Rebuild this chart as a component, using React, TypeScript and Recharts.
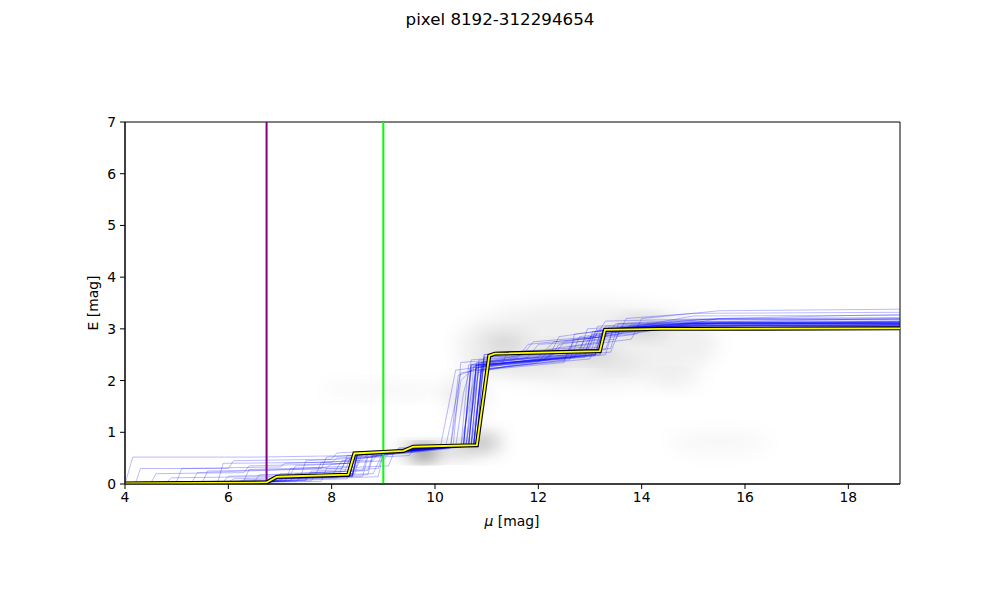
import React from 'react';
import { ComposedChart, Line, XAxis, YAxis, ReferenceLine, ReferenceArea } from 'recharts';

const title = 'pixel 8192-312294654';
const xTicks = [4, 6, 8, 10, 12, 14, 16, 18];
const yTicks = [0, 1, 2, 3, 4, 5, 6, 7];
const purpleMu = 6.74;
const greenMu = 9.0;

// best-fit curve [mu, E, mu, E, ...]
const bestFit = [4, 0.01, 6.74, 0.03, 6.94, 0.14, 8.32, 0.18, 8.44, 0.59, 9.39, 0.64, 9.58, 0.72, 10.81, 0.75, 11.05, 2.48, 11.16, 2.52, 13.19, 2.57, 13.29, 2.98, 14.35, 3.0, 14.99, 3.0, 19, 3.01];

// sampled curves
const samples: number[][] = [
  [4,0.02, 6.8,0.04, 6.9,0.12, 8.3,0.18, 8.45,0.58, 9.4,0.62, 9.6,0.7, 10.7,0.75, 10.95,2.3, 12.9,2.45, 13.1,2.95, 15,3.1, 19,3.1],
  [4,0.02, 7.2,0.06, 7.3,0.2, 8.6,0.26, 8.7,0.58, 10.5,0.72, 10.8,2.25, 13.3,2.5, 13.45,3.0, 14.8,3.15, 19,3.15],
  [4,0.01, 6.0,0.03, 6.1,0.1, 8.0,0.15, 8.2,0.45, 9.0,0.55, 9.1,0.62, 10.6,0.75, 10.85,2.2, 12.5,2.4, 12.7,2.8, 14.2,3.05, 19,3.08],
  [4,0.0, 4.15,0.52, 6.5,0.52, 8.5,0.55, 9.2,0.62, 10.4,0.72, 10.55,1.75, 10.7,2.3, 12.0,2.45, 12.3,2.75, 13.8,2.9, 15.5,3.2, 19,3.2],
  [4,0.03, 5.0,0.05, 5.1,0.3, 7.0,0.33, 7.1,0.4, 8.8,0.45, 8.9,0.6, 10.3,0.7, 10.45,2.1, 11.0,2.3, 12.8,2.5, 13.0,2.85, 14.5,3.0, 19,3.05],
  [4,0.02, 6.8,0.05, 7.5,0.08, 7.6,0.25, 8.9,0.3, 9.0,0.58, 10.75,0.76, 10.95,2.5, 13.2,2.6, 13.3,3.0, 15,3.05, 19,3.05],
  [4,0.0, 4.5,0.02, 4.6,0.2, 6.3,0.22, 6.4,0.35, 8.4,0.4, 8.5,0.6, 10.6,0.74, 10.8,2.3, 11.8,2.45, 12.0,2.7, 13.5,2.8, 13.7,3.2, 15,3.3, 19,3.32],
  [4,0.02, 6.9,0.04, 7.0,0.1, 8.1,0.12, 8.3,0.5, 9.7,0.62, 10.55,0.72, 10.7,2.2, 12.6,2.4, 12.8,2.85, 14.0,3.0, 15.5,3.12, 19,3.12],
  [4,0.01, 7.8,0.05, 7.9,0.3, 9.1,0.35, 9.2,0.6, 10.8,0.78, 11.0,2.35, 13.4,2.55, 13.6,3.05, 15.2,3.18, 19,3.18],
  [4,0.02, 6.5,0.04, 6.6,0.18, 7.7,0.2, 7.8,0.42, 8.6,0.46, 8.7,0.6, 10.65,0.74, 10.8,2.15, 11.5,2.3, 12.2,2.4, 12.4,2.7, 13.9,2.9, 14.1,3.1, 19,3.12],
  [4,0.03, 5.5,0.04, 5.6,0.25, 8.2,0.3, 8.3,0.55, 10.2,0.7, 10.4,1.6, 10.5,2.15, 12.0,2.35, 12.2,2.6, 13.2,2.75, 13.3,3.05, 19,3.08],
  [4,0.02, 7.0,0.06, 7.1,0.15, 8.8,0.2, 9.0,0.62, 10.7,0.76, 10.85,2.4, 12.9,2.55, 13.05,2.9, 14.6,3.0, 16,3.06, 19,3.06],
  [4,0.01, 6.8,0.03, 6.95,0.1, 8.4,0.14, 8.5,0.56, 9.6,0.65, 10.75,0.75, 10.9,2.28, 13.0,2.5, 13.15,2.98, 15.5,3.1, 19,3.1],
  [4,0.02, 4.8,0.03, 4.9,0.12, 7.4,0.15, 7.5,0.45, 9.5,0.55, 9.6,0.68, 10.75,0.76, 10.9,2.2, 12.5,2.35, 12.6,2.65, 13.8,2.8, 14.0,3.2, 15.5,3.35, 19,3.38],
  [4,0.02, 6.2,0.04, 6.3,0.08, 8.6,0.15, 8.7,0.52, 10.65,0.74, 10.8,2.25, 12.1,2.4, 12.3,2.55, 13.2,2.65, 13.35,3.02, 19,3.14],
  [4,0.02, 7.6,0.06, 7.7,0.18, 8.45,0.2, 8.55,0.6, 10.55,0.72, 10.7,2.3, 11.6,2.45, 11.8,2.7, 13.3,2.85, 13.5,3.1, 19,3.2],
  [4,0.0, 6.75,0.03, 6.85,0.12, 8.35,0.16, 8.45,0.58, 9.8,0.66, 10.8,0.77, 10.95,2.5, 11.2,2.55, 13.2,2.6, 13.3,2.95, 14.5,3.0, 19,3.02],
  [4,0.03, 5.8,0.05, 5.9,0.4, 8.0,0.42, 8.1,0.5, 9.2,0.58, 9.3,0.7, 10.3,0.72, 10.5,2.0, 10.8,2.3, 12.7,2.45, 12.9,2.8, 14.8,3.1, 19,3.15],
  [4,0.01, 7.3,0.05, 7.4,0.12, 8.7,0.18, 8.8,0.55, 10.65,0.74, 10.8,2.3, 13.1,2.5, 13.25,2.98, 19,3.08],
  [4,0.02, 6.9,0.05, 7.0,0.2, 8.25,0.24, 8.35,0.48, 9.0,0.55, 9.1,0.62, 10.7,0.75, 10.85,2.35, 12.3,2.5, 12.5,2.75, 13.6,2.9, 13.8,3.08, 19,3.1],
  [4,0.02, 6.7,0.04, 6.8,0.06, 8.3,0.1, 8.45,0.58, 9.5,0.62, 10.75,0.76, 10.9,2.22, 13.0,2.42, 13.2,2.9, 15.0,3.06, 19,3.06],
  [4,0.02, 5.3,0.04, 5.4,0.22, 7.8,0.3, 7.9,0.52, 9.3,0.6, 10.1,0.7, 10.4,2.2, 12.2,2.45, 12.4,2.85, 14.2,3.1, 15,3.25, 19,3.26],
  [4,0.01, 6.8,0.03, 7.0,0.08, 8.9,0.14, 9.0,0.6, 10.75,0.76, 10.9,2.35, 13.2,2.55, 13.35,3.0, 19,3.04],
  [4,0.02, 7.1,0.05, 7.2,0.3, 8.5,0.35, 8.6,0.6, 10.6,0.73, 10.75,2.28, 11.3,2.32, 11.4,2.55, 13.0,2.65, 13.15,3.05, 15.5,3.2, 19,3.22],
  [4,0.03, 6.8,0.06, 6.9,0.14, 8.4,0.2, 8.5,0.6, 10.55,0.73, 10.7,2.4, 13.3,2.6, 13.45,3.0, 15,3.12, 19,3.13],
  [4,0.02, 6.3,0.05, 6.4,0.28, 7.9,0.32, 8.0,0.38, 9.0,0.45, 9.1,0.6, 10.8,0.77, 10.95,2.45, 12.8,2.55, 12.95,3.0, 14.5,3.1, 19,3.1],
  [4,0.01, 6.8,0.03, 6.9,0.1, 8.3,0.14, 8.4,0.56, 10.75,0.76, 10.9,2.3, 13.1,2.48, 13.25,2.96, 15,3.08, 19,3.08],
  [4,0.02, 6.8,0.04, 6.9,0.12, 8.4,0.16, 8.5,0.58, 10.75,0.76, 10.9,2.25, 13.2,2.52, 13.3,3.0, 15,3.1, 19,3.1],
  [4,0.01, 6.8,0.03, 6.95,0.1, 8.4,0.15, 8.5,0.58, 10.65,0.75, 10.8,2.3, 13.2,2.5, 13.3,2.98, 15,3.12, 19,3.12],
  [4,0.02, 6.8,0.04, 6.9,0.11, 8.35,0.15, 8.45,0.57, 10.55,0.73, 10.7,2.28, 13.1,2.5, 13.2,2.97, 15,3.14, 19,3.14],
  [4,0.02, 5.9,0.04, 6.0,0.15, 7.2,0.18, 7.3,0.35, 8.3,0.4, 8.4,0.55, 9.2,0.6, 9.3,0.68, 10.5,0.72, 10.65,2.3, 11.7,2.5, 11.9,2.75, 13.1,2.85, 13.3,3.15, 19,3.28],
  [4,0.02, 6.8,0.04, 6.9,0.12, 8.4,0.16, 8.5,0.58, 10.65,0.75, 10.8,2.35, 13.2,2.55, 13.3,3.0, 15,3.1, 19,3.1],
  [4,0.01, 4.2,0.01, 4.3,0.3, 6.0,0.3, 6.1,0.45, 8.0,0.48, 8.1,0.6, 10.35,0.72, 10.5,2.35, 12.6,2.5, 12.7,2.9, 14,3.05, 19,3.08],
  [4,0.02, 6.8,0.04, 6.9,0.13, 8.4,0.18, 8.5,0.59, 10.55,0.73, 10.7,2.25, 13.1,2.5, 13.25,2.98, 15,3.12, 19,3.12],
  [4,0.02, 7.5,0.07, 7.6,0.22, 8.7,0.26, 8.8,0.6, 10.8,0.77, 10.95,2.45, 13.4,2.62, 13.55,3.1, 15,3.18, 19,3.18],
  [4,0.02, 6.8,0.05, 6.9,0.12, 8.4,0.17, 8.5,0.6, 10.7,0.75, 10.85,2.3, 12.9,2.5, 13.05,2.95, 15,3.06, 19,3.06],
];

// background density patches: mu range, E range, darkness
const densMuLo = [10.4, 7.8, 9.55, 9.2, 10.5, 10.9, 12.0, 13.5, 14.2, 13.0, 10.2, 14.5, 10.4];
const densMuHi = [15.5, 10.4, 10.0, 10.8, 11.3, 11.8, 13.5, 14.5, 15.2, 14.0, 11.0, 16.5, 12.5];
const densELo = [1.9, 1.72, 0.52, 0.55, 0.65, 2.6, 2.45, 2.9, 1.9, 2.25, 1.3, 0.6, 2.2];
const densEHi = [3.5, 1.92, 0.68, 0.72, 0.95, 2.85, 2.65, 3.15, 2.1, 2.45, 2.1, 1.0, 2.4];
const densLevel = [0.06, 0.05, 0.85, 0.3, 0.3, 0.16, 0.2, 0.2, 0.08, 0.08, 0.08, 0.035, 0.08];

const toPts = (flat: number[]) => {
  const out: { mu: number; e: number }[] = [];
  for (let i = 0; i < flat.length; i += 2) out.push({ mu: flat[i], e: flat[i + 1] });
  return out;
};

const FONT = 'DejaVu Sans, sans-serif';

export default function App() {
  const fitPts = toPts(bestFit);
  return (
    <div style={{ position: 'absolute', left: 0, top: 0, width: 1000, height: 600, background: '#fff', fontFamily: FONT }}>
      <div style={{ position: 'absolute', left: 0, width: 1000, top: 9, textAlign: 'center', fontSize: 16.7, color: '#000', lineHeight: '20px' }}>{title}</div>
      <div style={{ position: 'absolute', left: 412, width: 200, top: 512, textAlign: 'center', fontSize: 13.9, color: '#000', lineHeight: '18px' }}>
        <span style={{ fontStyle: 'italic' }}>μ</span> [mag]
      </div>
      <div style={{ position: 'absolute', left: 93 - 100, width: 200, top: 303 - 9, textAlign: 'center', fontSize: 13.9, color: '#000', lineHeight: '18px', transform: 'rotate(-90deg)' }}>
        E [mag]
      </div>
      <ComposedChart width={1000} height={600} margin={{ top: 122, right: 100, bottom: 76, left: 80 }} style={{ position: 'absolute', left: 0, top: 0 }}>
        <defs>
          <filter id="densBlur" x="-60%" y="-100%" width="220%" height="300%">
            <feGaussianBlur stdDeviation="9" />
          </filter>
        </defs>
        <XAxis
          type="number"
          dataKey="mu"
          domain={[4, 19]}
          ticks={xTicks}
          allowDataOverflow
          height={40}
          tickSize={5}
          tickMargin={3}
          stroke="#000"
          tick={{ fill: '#000', fontSize: 13.9, fontFamily: FONT }}
          tickLine={{ stroke: '#000' }}
          axisLine={{ stroke: '#000' }}
        />
        <YAxis
          type="number"
          domain={[0, 7]}
          ticks={yTicks}
          allowDataOverflow
          width={45}
          tickSize={5}
          tickMargin={4}
          stroke="#000"
          tick={{ fill: '#000', fontSize: 13.9, fontFamily: FONT }}
          tickLine={{ stroke: '#000' }}
          axisLine={{ stroke: '#000' }}
        />
        {densMuLo.map((lo, i) => (
          <ReferenceArea
            key={'d' + i}
            x1={lo}
            x2={densMuHi[i]}
            y1={densELo[i]}
            y2={densEHi[i]}
            ifOverflow="hidden"
            shape={(p: any) => (
              <ellipse
                cx={p.x + p.width / 2}
                cy={p.y + p.height / 2}
                rx={Math.abs(p.width) / 2}
                ry={Math.abs(p.height) / 2}
                fill="#000"
                fillOpacity={densLevel[i]}
                filter="url(#densBlur)"
              />
            )}
          />
        ))}
        {samples.map((s, i) => (
          <Line
            key={'s' + i}
            data={toPts(s)}
            dataKey="e"
            type="linear"
            stroke="#0000ff"
            strokeOpacity={0.3}
            strokeWidth={0.9}
            dot={false}
            activeDot={false}
            isAnimationActive={false}
          />
        ))}
        <ReferenceLine x={purpleMu} stroke="#800080" strokeWidth={2} />
        <ReferenceLine x={greenMu} stroke="#00ff00" strokeWidth={2} />
        <Line data={fitPts} dataKey="e" type="linear" stroke="#000" strokeWidth={4} dot={false} activeDot={false} isAnimationActive={false} />
        <Line data={fitPts} dataKey="e" type="linear" stroke="#ffff00" strokeWidth={1.8} dot={false} activeDot={false} isAnimationActive={false} />
        <ReferenceArea x1={4} x2={19} y1={0} y2={7} fill="none" stroke="#000" strokeWidth={1} ifOverflow="visible" />
      </ComposedChart>
    </div>
  );
}
